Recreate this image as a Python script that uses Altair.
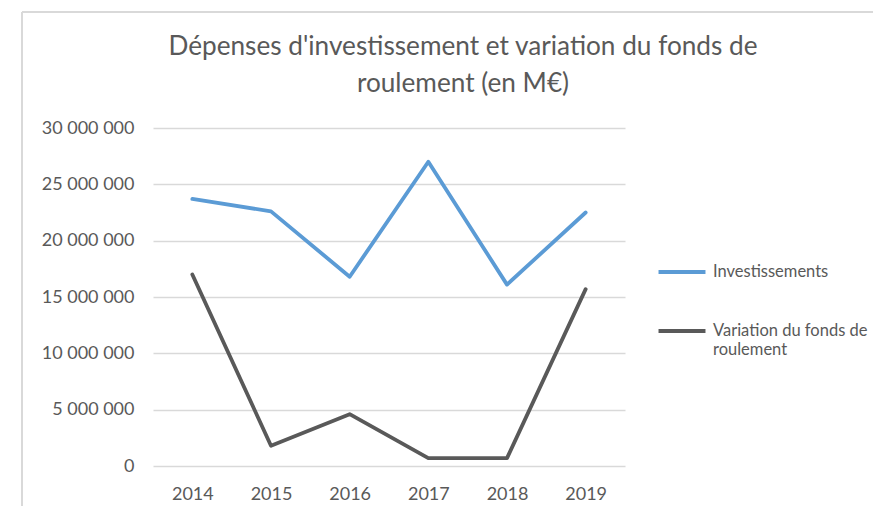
import altair as alt
import pandas as pd

years = ["2014", "2015", "2016", "2017", "2018", "2019"]
investissements = [23_700_000, 22_600_000, 16_800_000, 27_000_000, 16_100_000, 22_500_000]
variation_fr = [17_000_000, 1_800_000, 4_600_000, 700_000, 700_000, 15_700_000]
series_names = ["Investissements", "Variation du fonds de roulement"]
series_colors = ["#5b9bd5", "#595959"]
title_lines = ["Dépenses d'investissement et variation du fonds de", "roulement (en M€)"]
y_ticks = [0, 5_000_000, 10_000_000, 15_000_000, 20_000_000, 25_000_000, 30_000_000]

rows = []
for i, yr in enumerate(years):
    rows.append({"annee": yr, "serie": series_names[0], "valeur": investissements[i]})
    rows.append({"annee": yr, "serie": series_names[1], "valeur": variation_fr[i]})
df = pd.DataFrame(rows)

FONT = "Lato"
GREY = "#595959"
LIGHT = "#d9d9d9"

lines = alt.Chart(df).mark_line(strokeWidth=3.8, strokeCap="round", strokeJoin="round").encode(
    x=alt.X("annee:O", title=None, sort=years,
            axis=alt.Axis(labelAngle=0, ticks=False, domain=False, grid=False, labelPadding=19)),
    y=alt.Y("valeur:Q", title=None, scale=alt.Scale(domain=[0, 30_000_000], nice=False),
            axis=alt.Axis(values=y_ticks, ticks=False, domain=False, gridColor=LIGHT, gridWidth=1.5,
                          labelPadding=19,
                          labelExpr="replace(format(datum.value, ',d'), regexp(',', 'g'), '\u00a0')")),
    color=alt.Color("serie:N", scale=alt.Scale(domain=series_names, range=series_colors),
                    legend=alt.Legend(title=None, orient="none", legendX=519, legendY=134,
                                      symbolType="M-3,0L3,0", symbolSize=245, symbolStrokeWidth=4,
                                      labelFont=FONT, labelFontSize=16.5, labelColor=GREY,
                                      labelOffset=21, rowPadding=40, labelLimit=300, padding=0,
                                      labelExpr="datum.label == 'Variation du fonds de roulement' ? ['Variation du fonds de', 'roulement'] : datum.label")),
)

one = alt.Data(values=[{}])
frame_top = alt.Chart(one).mark_rule(color=LIGHT, strokeWidth=2).encode(
    x=alt.value(-131), x2=alt.value(780), y=alt.value(-116))
frame_left = alt.Chart(one).mark_rule(color=LIGHT, strokeWidth=2).encode(
    x=alt.value(-131), y=alt.value(-116), y2=alt.value(420))
cut_text = alt.Chart(one).mark_text(text="t", font=FONT, fontSize=18, color=GREY,
                                   align="center", baseline="middle").encode(
    x=alt.value(-149), y=alt.value(137))
title_text = alt.Chart(one).mark_text(text=title_lines, font=FONT, fontSize=26.2, fontWeight="normal",
                                     color=GREY, align="center", baseline="alphabetic",
                                     lineHeight=37).encode(
    x=alt.value(310), y=alt.value(-73))

chart = alt.layer(frame_top, frame_left, cut_text, title_text, lines).properties(
    width=472, height=338,
    autosize=alt.AutoSizeParams(type="none"),
    padding={"left": 145, "top": 120, "right": 248, "bottom": 40},
).configure_axis(
    labelFont=FONT, labelFontSize=18, labelColor=GREY
).configure_view(stroke=None)

chart.save("out.html", embed_options={"renderer": "svg", "actions": False})
